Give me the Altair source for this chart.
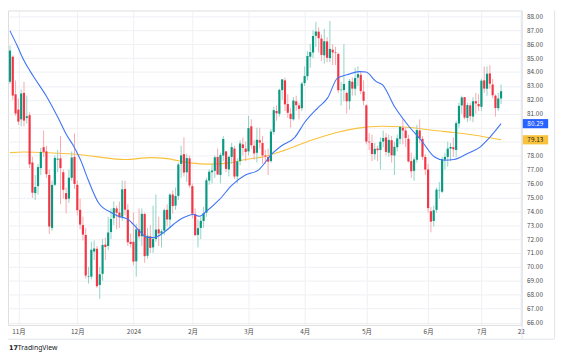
import altair as alt
import pandas as pd

# ---- daily candles (WTI crude, bar index 0 = 2023-10-27) ----
opens = [83.30, 85.10, 82.40, 81.30, 80.60, 82.50, 80.70, 80.90, 77.50, 75.30,
         75.80, 77.10, 78.60, 78.30, 76.60, 72.80, 75.90, 77.70, 77.80, 76.80,
         75.30, 74.90, 76.40, 77.90, 75.90, 74.10, 73.00, 72.30, 69.30, 69.30,
         71.10, 71.30, 68.70, 69.50, 71.60, 71.50, 72.50, 73.50, 74.20, 73.90,
         73.60, 75.60, 74.10, 71.80, 71.80, 70.40, 72.70, 72.20, 73.80, 70.80,
         72.20, 71.40, 72.00, 72.70, 72.40, 72.60, 74.10, 73.40, 75.20, 74.40,
         75.10, 77.40, 78.10, 76.80, 77.80, 75.80, 73.80, 72.30, 72.80, 73.30,
         73.90, 76.20, 76.80, 76.90, 77.90, 76.60, 78.00, 78.30, 77.00, 77.90,
         78.50, 76.50, 77.60, 78.80, 78.50, 78.30, 80.10, 78.70, 78.20, 79.10,
         78.90, 78.00, 77.90, 77.60, 79.70, 81.20, 81.00, 82.70, 83.40, 81.70,
         81.00, 80.60, 81.90, 81.60, 81.40, 83.20, 83.70, 85.10, 85.40, 86.60,
         86.90, 86.40, 85.20, 86.20, 85.00, 85.60, 85.40, 85.30, 82.70, 82.70,
         82.50, 81.90, 83.30, 82.80, 83.60, 83.80, 82.60, 81.60, 79.00, 78.90,
         78.10, 78.50, 78.40, 79.00, 79.30, 78.20, 79.10, 78.00, 78.60, 79.20,
         80.00, 79.80, 79.20, 77.60, 76.90, 77.70, 79.80, 79.20, 77.90, 77.00,
         74.00, 73.30, 74.10, 75.50, 75.40, 77.70, 77.90, 78.50, 78.60, 78.40,
         80.30, 81.60, 82.20, 80.70, 81.60, 80.80, 81.90, 81.70, 81.50, 83.40,
         82.80, 83.90, 83.10, 82.30, 81.40, 82.10]
highs = [85.90, 85.20, 83.40, 82.10, 82.75, 83.30, 82.30, 81.10, 77.90, 76.60,
         77.40, 78.55, 79.80, 78.70, 77.00, 76.20, 78.00, 78.40, 79.40, 77.00,
         75.70, 77.00, 78.30, 79.60, 76.20, 74.90, 73.60, 72.80, 70.00, 71.80,
         71.90, 71.50, 70.00, 72.00, 72.10, 73.60, 74.20, 74.70, 74.40, 74.70,
         76.20, 76.20, 74.50, 72.40, 73.90, 73.10, 74.20, 74.20, 73.90, 72.80,
         73.00, 74.40, 75.20, 73.60, 72.70, 74.20, 74.50, 75.30, 75.50, 75.70,
         77.50, 78.70, 79.30, 78.10, 78.00, 76.00, 74.20, 73.40, 73.60, 74.30,
         76.40, 77.00, 77.40, 78.00, 78.50, 78.20, 79.40, 78.30, 78.00, 78.90,
         78.70, 77.80, 79.10, 79.30, 79.00, 80.85, 80.60, 79.10, 80.00, 80.00,
         79.40, 78.40, 78.50, 79.90, 81.50, 81.60, 82.80, 83.50, 83.60, 82.40,
         81.40, 82.20, 82.30, 81.80, 83.30, 84.40, 85.50, 86.00, 87.00, 87.60,
         87.20, 86.70, 87.10, 86.50, 87.67, 86.00, 85.80, 85.40, 83.30, 86.00,
         82.60, 83.50, 83.60, 84.30, 84.40, 84.00, 83.40, 81.70, 79.60, 79.50,
         78.90, 78.70, 79.30, 79.80, 79.60, 79.50, 79.40, 79.00, 79.50, 80.10,
         80.60, 80.00, 79.50, 78.20, 77.90, 80.20, 80.60, 79.40, 78.10, 77.40,
         74.30, 74.40, 75.70, 76.10, 77.90, 78.20, 79.00, 78.90, 79.30, 80.50,
         81.80, 82.30, 82.20, 81.80, 81.80, 82.20, 82.50, 82.40, 83.50, 84.40,
         84.40, 84.50, 83.50, 82.40, 82.50, 83.10]
lows = [83.15, 82.01, 80.85, 80.20, 80.10, 80.10, 80.30, 77.10, 74.96, 74.80,
        75.20, 76.60, 77.90, 76.40, 72.37, 72.60, 75.80, 76.80, 74.50, 74.90,
        73.85, 74.60, 76.20, 75.60, 73.70, 72.70, 71.90, 69.17, 68.80, 69.10,
        70.50, 68.50, 67.71, 69.00, 70.50, 71.20, 72.00, 73.00, 72.70, 72.80,
        73.30, 73.70, 71.50, 71.40, 70.13, 69.30, 72.00, 71.50, 70.30, 70.60,
        71.00, 71.00, 71.80, 71.50, 71.40, 72.30, 72.90, 72.80, 73.80, 74.10,
        74.80, 76.40, 76.50, 76.10, 75.70, 73.50, 72.20, 71.40, 72.00, 72.80,
        73.60, 75.90, 76.00, 76.40, 76.60, 76.00, 77.60, 76.80, 76.50, 77.40,
        76.30, 76.00, 77.30, 78.00, 77.60, 78.00, 78.50, 77.70, 77.50, 78.50,
        77.40, 77.40, 76.60, 77.50, 79.50, 80.50, 80.80, 82.00, 81.20, 80.70,
        80.00, 80.50, 81.20, 80.60, 81.20, 83.00, 83.40, 84.30, 85.00, 85.80,
        85.40, 84.80, 84.60, 84.70, 84.70, 84.50, 84.50, 82.50, 81.60, 81.90,
        81.00, 81.30, 82.30, 82.30, 83.00, 82.40, 81.60, 78.80, 78.40, 77.60,
        77.70, 77.60, 77.00, 78.60, 78.00, 77.90, 77.50, 76.60, 78.30, 78.80,
        78.80, 78.60, 77.50, 76.40, 76.20, 77.50, 78.90, 77.70, 76.60, 73.90,
        72.48, 72.90, 73.90, 74.90, 75.30, 77.00, 77.20, 77.60, 77.90, 77.90,
        80.00, 81.00, 80.60, 80.40, 80.50, 80.40, 81.00, 81.20, 81.20, 82.50,
        82.30, 82.80, 82.10, 80.80, 81.20, 81.70]
closes = [85.54, 82.31, 81.02, 80.44, 82.46, 80.51, 80.82, 77.37, 75.33, 75.74,
          77.17, 78.26, 78.26, 76.66, 72.90, 75.89, 77.83, 77.77, 77.10, 75.54,
          74.86, 76.41, 77.86, 75.96, 74.07, 73.04, 72.32, 69.38, 69.34, 71.23,
          71.32, 68.61, 69.47, 71.58, 71.43, 72.47, 73.44, 74.22, 73.89, 73.56,
          75.57, 74.11, 71.77, 71.65, 70.38, 72.70, 72.19, 73.81, 70.77, 72.24,
          71.37, 72.02, 72.68, 72.40, 72.56, 74.08, 73.41, 75.19, 74.37, 75.09,
          77.36, 78.01, 76.78, 77.82, 75.85, 73.82, 72.28, 72.78, 73.31, 73.86,
          76.22, 76.84, 76.92, 77.87, 76.64, 78.03, 79.19, 77.04, 77.91, 78.61,
          76.49, 77.58, 78.87, 78.54, 78.26, 79.97, 78.74, 78.15, 79.13, 78.93,
          78.01, 77.93, 77.56, 79.72, 81.26, 81.04, 82.72, 83.47, 81.68, 81.07,
          80.63, 81.95, 81.62, 81.35, 83.17, 83.71, 85.15, 85.43, 86.59, 86.91,
          86.43, 85.23, 86.21, 85.02, 85.66, 85.41, 85.36, 82.69, 82.73, 83.14,
          81.90, 83.36, 82.81, 83.57, 83.85, 82.63, 81.93, 79.00, 78.95, 78.11,
          78.48, 78.38, 78.99, 79.26, 78.26, 79.12, 78.02, 78.63, 79.23, 80.06,
          79.80, 79.26, 77.57, 76.87, 77.72, 79.83, 79.23, 77.91, 76.99, 74.22,
          73.25, 74.07, 75.55, 75.53, 77.74, 77.90, 78.50, 78.62, 78.45, 80.33,
          81.57, 82.17, 80.73, 81.63, 80.83, 81.90, 81.74, 81.54, 83.38, 82.81,
          83.88, 83.16, 82.33, 81.41, 82.10, 82.62]

# ---- moving averages (bar index, price) ----
blue_idx = [0, 2.5, 4.9, 8.4, 13.0, 17.1, 20.0, 22.9, 25.2, 27.9, 31.6, 36.2,
            38.6, 42.1, 45.6, 49.0, 51.3, 54.8, 58.3, 60.6, 63.0, 65.3, 67.6,
            70.0, 74.6, 79.2, 83.9, 88.5, 93.4, 96.9, 101.5, 105.0, 109.7,
            113.2, 116.7, 120.1, 124.5, 126.9, 130.4, 132.7, 137.3, 142.0,
            146.6, 151.3, 154.8, 158.2, 162.9, 167.5, 171.0, 175]
blue_val = [86.96, 85.92, 84.86, 83.68, 82.26, 80.73, 79.55, 78.60, 77.66,
            76.24, 74.59, 73.89, 73.64, 73.41, 72.70, 72.11, 72.11, 72.47,
            73.06, 73.41, 73.64, 73.76, 73.64, 74.00, 74.83, 75.89, 76.60,
            76.95, 78.13, 78.72, 79.31, 80.37, 81.43, 82.14, 83.56, 83.80,
            84.03, 84.00, 83.33, 83.09, 81.43, 80.14, 79.08, 77.89, 77.66,
            77.71, 78.13, 78.60, 79.31, 80.29]
yellow_idx = [0, 4.9, 15.3, 23.5, 29.9, 40.9, 50.2, 56.0, 64.1, 71.1, 78.1,
              83.9, 90.9, 97.8, 107.1, 116.4, 123.4, 132.7, 139.2, 144.3,
              152.0, 158.2, 165.2, 175]
yellow_val = [78.21, 78.25, 78.18, 78.09, 77.94, 77.71, 77.85, 77.78, 77.47,
              77.38, 77.47, 77.71, 77.94, 78.37, 79.08, 79.66, 79.95, 80.10,
              80.07, 79.98, 79.78, 79.66, 79.48, 79.13]

# ---- axis labels ----
month_ticks = [3, 24, 44, 65, 85, 105, 127, 149, 168, 182]
month_labels = ["11月", "12月", "2024", "2月", "3月", "4月", "5月", "6月", "7月", "22"]
price_ticks = list(range(66, 89))
hidden_price_labels = [79, 80]   # covered by the last-value boxes

last_texts = ["80.29", "79.13"]
last_values = [80.29, 79.13]
last_fill = ["#2962FF", "#F9C23C"]
last_ink = ["#ffffff", "#131722"]

W, H = 521, 319
FONT = "Noto Sans CJK JP"
GREEN, RED = "#089981", "#F23645"
GREEN_WICK, RED_WICK = "#8fd3c6", "#f7a9b0"
GRID = "#eef0f4"

candles = pd.DataFrame({
    "i": list(range(len(closes))),
    "open": opens, "high": highs, "low": lows, "close": closes,
})
up = [c >= o for o, c in zip(opens, closes)]
candles["body_col"] = [GREEN if u else RED for u in up]
candles["wick_col"] = [GREEN_WICK if u else RED_WICK for u in up]

xscale = alt.Scale(domain=[-0.7, 182.3], nice=False, zero=False)
yscale = alt.Scale(domain=[65.83, 88.42], nice=False, zero=False)

label_expr = "[" + ",".join("'%s'" % s for s in month_labels) + "][indexof([" + \
    ",".join(str(v) for v in month_ticks) + "], datum.value)]"
price_expr = "indexof([" + ",".join(str(v) for v in hidden_price_labels) + \
    "], datum.value) >= 0 ? '' : format(datum.value, '.2f')"

x_axis = alt.Axis(values=month_ticks, labelExpr=label_expr, grid=True, gridColor=GRID,
                  gridWidth=1, ticks=False, domain=False, labelFontSize=6.5,
                  labelFont=FONT, labelColor="#4a4a4a", labelPadding=4, title=None,
                  labelFlush=False, labelOverlap=False)
y_axis = alt.Axis(orient="right", values=price_ticks, labelExpr=price_expr, grid=True,
                  gridColor=GRID, gridWidth=1, ticks=False, domain=False,
                  labelFontSize=6.5, labelFont=FONT, labelColor="#4a4a4a",
                  labelPadding=5, title=None, labelFlush=False, labelOverlap=False)

X = alt.X("i:Q", scale=xscale, axis=x_axis)

wicks = alt.Chart(candles).mark_rule(strokeWidth=1).encode(
    x=X,
    y=alt.Y("low:Q", scale=yscale, axis=y_axis),
    y2="high:Q",
    color=alt.Color("wick_col:N", scale=None, legend=None),
)
bodies = alt.Chart(candles).mark_rule(strokeWidth=2.2).encode(
    x=X,
    y=alt.Y("open:Q", scale=yscale, axis=y_axis),
    y2="close:Q",
    color=alt.Color("body_col:N", scale=None, legend=None),
)

blue_df = pd.DataFrame({"i": blue_idx, "v": blue_val})
yellow_df = pd.DataFrame({"i": yellow_idx, "v": yellow_val})
yellow_line = alt.Chart(yellow_df).mark_line(color="#F9C23C", strokeWidth=1.1,
                                             interpolate="monotone").encode(
    x=X, y=alt.Y("v:Q", scale=yscale, axis=y_axis))
blue_line = alt.Chart(blue_df).mark_line(color="#3f74f5", strokeWidth=1.1,
                                         interpolate="monotone").encode(
    x=X, y=alt.Y("v:Q", scale=yscale, axis=y_axis))

lab_df = pd.DataFrame({"t": last_texts, "v": last_values, "fill": last_fill, "ink": last_ink})
boxes = alt.Chart(lab_df).mark_rect().transform_calculate(
    top="datum.v + 0.33", bot="datum.v - 0.33"
).encode(
    x=alt.value(W + 1), x2=alt.value(W + 27),
    y=alt.Y("top:Q", scale=yscale, axis=y_axis), y2="bot:Q",
    color=alt.Color("fill:N", scale=None, legend=None),
)
box_text = alt.Chart(lab_df).mark_text(fontSize=6.5, font=FONT, align="center",
                                       baseline="middle").encode(
    x=alt.value(W + 14),
    y=alt.Y("v:Q", scale=yscale, axis=y_axis),
    text="t:N",
    color=alt.Color("ink:N", scale=None, legend=None),
)

one = pd.DataFrame({"k": [0]})
frame_color = "#e0e3eb"
sep = alt.Chart(one).mark_rule(color=frame_color, strokeWidth=1).encode(
    x=alt.value(W + 0.5), y=alt.value(0), y2=alt.value(H + 14))
bottom = alt.Chart(one).mark_rule(color=frame_color, strokeWidth=1).encode(
    x=alt.value(0), x2=alt.value(W + 33), y=alt.value(H + 14.5))
outer = alt.Chart(one).mark_rule(color=frame_color, strokeWidth=1).encode(
    x=alt.value(W + 33.5), y=alt.value(0), y2=alt.value(H + 14))
logo = alt.Chart(one).mark_text(align="left", baseline="middle", fontSize=6.5,
                                fontWeight="bold", font="DejaVu Sans",
                                color="#131722").encode(
    x=alt.value(1), y=alt.value(H + 23), text=alt.value("17"))
brand = alt.Chart(one).mark_text(align="left", baseline="middle", fontSize=7,
                                 font="Noto Sans", color="#131722").encode(
    x=alt.value(10), y=alt.value(H + 23), text=alt.value("TradingView"))

chart = alt.layer(
    yellow_line, wicks, bodies, blue_line, boxes, box_text, sep, bottom, outer, logo, brand
).properties(
    width=W, height=H,
    autosize=alt.AutoSizeParams(type="none"),
    padding={"left": 0, "top": 0, "right": 38, "bottom": 30},
).configure_view(stroke=None).configure(background="#ffffff")

chart.save("out.html", embed_options={"renderer": "svg", "actions": False})
